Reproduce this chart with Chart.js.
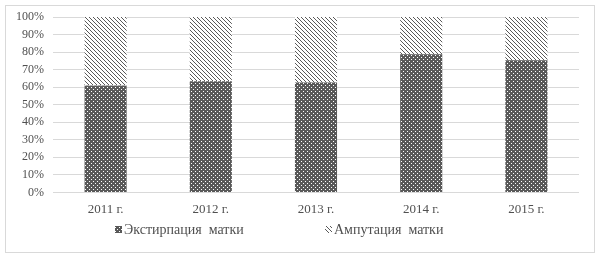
<!DOCTYPE html>
<html>
<head>
<meta charset="utf-8">
<script src="https://cdn.jsdelivr.net/npm/chart.js@4/dist/chart.umd.min.js"></script>
<style>
  html, body { margin: 0; padding: 0; background: #fff; }
  canvas { display: block; }
</style>
</head>
<body>
<canvas id="chart" width="600" height="258"></canvas>
<script>
// Data
const years = ['2011 г.', '2012 г.', '2013 г.', '2014 г.', '2015 г.'];
const extirpation = [61, 63.3, 62.7, 78.8, 75.3];
const amputation = [39, 36.7, 37.3, 21.2, 24.7];
const seriesNames = ['Экстирпация  матки', 'Ампутация  матки'];
const yTicks = [0, 10, 20, 30, 40, 50, 60, 70, 80, 90, 100];

const FONT = "'Liberation Serif', 'Times New Roman', serif";
const DARK = '#595959';

// dark fill with white dots
function dotPattern() {
  const c = document.createElement('canvas');
  c.width = 4; c.height = 4;
  const g = c.getContext('2d');
  g.fillStyle = DARK;
  g.fillRect(0, 0, 4, 4);
  g.fillStyle = '#ffffff';
  g.fillRect(1, 1, 1, 1);
  g.fillRect(3, 3, 1, 1);
  return g.createPattern(c, 'repeat');
}

// light downward diagonal hatch
function hatchPattern() {
  const c = document.createElement('canvas');
  c.width = 4; c.height = 4;
  const g = c.getContext('2d');
  g.fillStyle = '#ffffff';
  g.fillRect(0, 0, 4, 4);
  g.fillStyle = DARK;
  for (let i = 0; i < 4; i++) g.fillRect(i, i, 1, 1);
  return g.createPattern(c, 'repeat');
}

const fills = [dotPattern(), hatchPattern()];

// outer frame + legend drawn by hand to match the Word layout
const framePlugin = {
  id: 'frame',
  beforeDraw(chart) {
    const ctx = chart.ctx;
    ctx.save();
    ctx.fillStyle = '#fff';
    ctx.fillRect(0, 0, chart.width, chart.height);
    ctx.strokeStyle = '#d9d9d9';
    ctx.lineWidth = 1;
    ctx.strokeRect(5.5, 5.5, 589, 247);
    ctx.restore();
  },
  afterDraw(chart) {
    const ctx = chart.ctx;
    const starts = [115, 325];
    ctx.save();
    ctx.font = '14px ' + FONT;
    ctx.textBaseline = 'middle';
    chart.data.datasets.forEach((ds, i) => {
      const x = starts[i];
      const y = 229;
      ctx.fillStyle = ds.backgroundColor;
      ctx.fillRect(x, y - 3, 7, 7);
      ctx.fillStyle = '#505050';
      ctx.fillText(ds.label, x + 9, y + 1);
    });
    ctx.restore();
  }
};

new Chart(document.getElementById('chart'), {
  type: 'bar',
  data: {
    labels: years,
    datasets: [
      { label: seriesNames[0], data: extirpation, backgroundColor: fills[0], borderWidth: 0 },
      { label: seriesNames[1], data: amputation, backgroundColor: fills[1], borderWidth: 0 }
    ]
  },
  options: {
    responsive: false,
    animation: false,
    layout: { padding: { top: 17, right: 21, bottom: 40, left: 0 } },
    datasets: { bar: { barPercentage: 1, categoryPercentage: 0.4 } },
    plugins: {
      legend: { display: false },
      tooltip: { enabled: false }
    },
    scales: {
      x: {
        stacked: true,
        grid: { display: false },
        border: { display: false },
        ticks: { color: '#505050', font: { family: FONT, size: 13 }, padding: 1 }
      },
      y: {
        stacked: true,
        min: 0,
        max: 100,
        afterFit(scale) { scale.width = 53; },
        afterBuildTicks(scale) { scale.ticks = yTicks.map(v => ({ value: v })); },
        grid: { color: '#d9d9d9', drawTicks: false },
        border: { display: false },
        ticks: {
          color: '#505050',
          font: { family: FONT, size: 12 },
          padding: 9,
          autoSkip: false,
          callback: v => v + '%'
        }
      }
    }
  },
  plugins: [framePlugin]
});
</script>
</body>
</html>
